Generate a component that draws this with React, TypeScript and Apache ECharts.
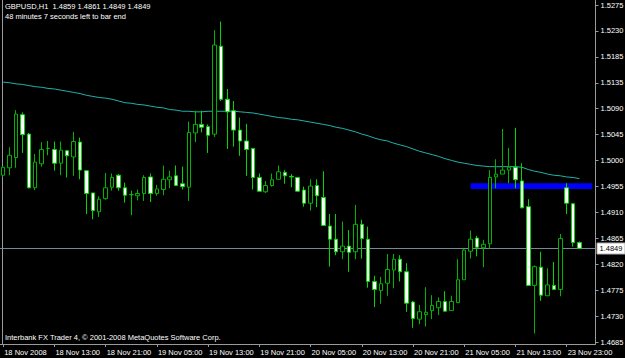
import React, { useEffect, useRef } from "react";
import * as echarts from "echarts";

const symbolName = "GBPUSD,H1";
const lastBar = ["1.4859", "1.4861", "1.4849", "1.4849"];
const timerText = "48 minutes 7 seconds left to bar end";
const copyright = "Interbank FX Trader 4, \u00a9 2001-2008 MetaQuotes Software Corp.";

const xTickLabels = [
  "18 Nov 2008", "18 Nov 13:00", "18 Nov 21:00", "19 Nov 05:00", "19 Nov 13:00", "19 Nov 21:00",
  "20 Nov 05:00", "20 Nov 13:00", "20 Nov 21:00", "21 Nov 05:00", "21 Nov 13:00", "23 Nov 23:00",
];
const yTickLabels = [
  "1.5275", "1.5230", "1.5185", "1.5135", "1.5090", "1.5045", "1.5000",
  "1.4955", "1.4910", "1.4865", "1.4820", "1.4775", "1.4730", "1.4685",
];

const opens = [
  1.4977, 1.4990, 1.5008, 1.5083, 1.5049, 1.4955, 1.4997, 1.5024, 1.5022, 1.4998,
  1.5020, 1.5009, 1.5035, 1.4985, 1.4946, 1.4913, 1.4936, 1.4956, 1.4977, 1.4955,
  1.4943, 1.4941, 1.4945, 1.4974, 1.4945, 1.4952, 1.4969, 1.4976, 1.4962, 1.4956,
  1.5051, 1.5066, 1.5062, 1.5049, 1.5203, 1.5110, 1.5090, 1.5056, 1.5037, 1.5024,
  1.4973, 1.4948, 1.4959, 1.4970, 1.4982, 1.4975, 1.4973, 1.4951, 1.4928, 1.4959,
  1.4938, 1.4888, 1.4865, 1.4843, 1.4853, 1.4843, 1.4891, 1.4865, 1.4791, 1.4775,
  1.4788, 1.4811, 1.4830, 1.4808, 1.4755, 1.4725, 1.4733, 1.4740, 1.4745, 1.4756,
  1.4740, 1.4754, 1.4794, 1.4844, 1.4867, 1.4850, 1.4857, 1.4974, 1.4979, 1.4986,
  1.4991, 1.4967, 1.4922, 1.4784, 1.4816, 1.4766, 1.4784, 1.4777, 1.4955, 1.4927,
  1.4859,
];
const closes = [
  1.4991, 1.5012, 1.5084, 1.5048, 1.4955, 1.5000, 1.5022, 1.5024, 1.4998, 1.5021,
  1.5011, 1.5036, 1.4986, 1.4945, 1.4915, 1.4935, 1.4955, 1.4973, 1.4955, 1.4942,
  1.4943, 1.4945, 1.4973, 1.4945, 1.4953, 1.4970, 1.4974, 1.4959, 1.4957, 1.5052,
  1.5066, 1.5061, 1.5047, 1.5205, 1.5110, 1.5088, 1.5056, 1.5037, 1.5022, 1.4973,
  1.4949, 1.4959, 1.4969, 1.4983, 1.4976, 1.4974, 1.4949, 1.4928, 1.4958, 1.4941,
  1.4889, 1.4865, 1.4843, 1.4853, 1.4842, 1.4891, 1.4866, 1.4791, 1.4777, 1.4787,
  1.4812, 1.4830, 1.4808, 1.4753, 1.4726, 1.4738, 1.4737, 1.4749, 1.4756, 1.4739,
  1.4756, 1.4794, 1.4846, 1.4865, 1.4851, 1.4856, 1.4973, 1.4979, 1.4986, 1.4991,
  1.4969, 1.4920, 1.4784, 1.4817, 1.4767, 1.4785, 1.4777, 1.4866, 1.4928, 1.4859,
  1.4849,
];
const lows = [
  1.4974, 1.4977, 1.4990, 1.5016, 1.4954, 1.4951, 1.4992, 1.5012, 1.4985, 1.4977,
  1.4973, 1.4976, 1.4970, 1.4909, 1.4900, 1.4904, 1.4934, 1.4950, 1.4950, 1.4929,
  1.4907, 1.4933, 1.4932, 1.4930, 1.4941, 1.4942, 1.4954, 1.4958, 1.4952, 1.4932,
  1.5035, 1.5052, 1.5016, 1.5044, 1.5107, 1.5023, 1.5027, 1.5011, 1.4976, 1.4952,
  1.4949, 1.4946, 1.4957, 1.4970, 1.4962, 1.4956, 1.4949, 1.4922, 1.4915, 1.4921,
  1.4889, 1.4817, 1.4837, 1.4830, 1.4808, 1.4830, 1.4831, 1.4780, 1.4746, 1.4752,
  1.4766, 1.4779, 1.4791, 1.4738, 1.4710, 1.4716, 1.4712, 1.4725, 1.4732, 1.4739,
  1.4740, 1.4753, 1.4794, 1.4831, 1.4835, 1.4816, 1.4848, 1.4954, 1.4979, 1.4963,
  1.4954, 1.4919, 1.4784, 1.4700, 1.4757, 1.4766, 1.4777, 1.4765, 1.4909, 1.4852,
  1.4849,
];
const highs = [
  1.4993, 1.5026, 1.5091, 1.5087, 1.5051, 1.5014, 1.5035, 1.5037, 1.5036, 1.5036,
  1.5020, 1.5053, 1.5043, 1.4986, 1.4946, 1.4940, 1.4981, 1.4980, 1.4979, 1.4964,
  1.4950, 1.4952, 1.4977, 1.4980, 1.4960, 1.4994, 1.4985, 1.4994, 1.4992, 1.5071,
  1.5090, 1.5090, 1.5066, 1.5231, 1.5246, 1.5128, 1.5107, 1.5078, 1.5067, 1.5024,
  1.4980, 1.4967, 1.4980, 1.4994, 1.4986, 1.4979, 1.4973, 1.4957, 1.4970, 1.4970,
  1.4984, 1.4909, 1.4909, 1.4896, 1.4881, 1.4925, 1.4899, 1.4887, 1.4801, 1.4799,
  1.4839, 1.4839, 1.4837, 1.4823, 1.4757, 1.4750, 1.4781, 1.4767, 1.4763, 1.4774,
  1.4766, 1.4830, 1.4849, 1.4880, 1.4871, 1.4864, 1.4986, 1.5005, 1.5058, 1.5025,
  1.5060, 1.4998, 1.4935, 1.4819, 1.4843, 1.4814, 1.4825, 1.4874, 1.4963, 1.4928,
  1.4861,
];
const movingAverage = [
  1.5140, 1.5139, 1.5137, 1.5136, 1.5134, 1.5132, 1.5131, 1.5129, 1.5128, 1.5126,
  1.5124, 1.5122, 1.5120, 1.5117, 1.5115, 1.5113, 1.5112, 1.5110, 1.5107, 1.5104,
  1.5103, 1.5101, 1.5100, 1.5098, 1.5096, 1.5095, 1.5092, 1.5091, 1.5089, 1.5089,
  1.5088, 1.5088, 1.5089, 1.5089, 1.5089, 1.5089, 1.5089, 1.5088, 1.5087, 1.5086,
  1.5084, 1.5082, 1.5080, 1.5078, 1.5077, 1.5075, 1.5074, 1.5072, 1.5070, 1.5068,
  1.5066, 1.5064, 1.5061, 1.5059, 1.5056, 1.5053, 1.5049, 1.5046, 1.5042, 1.5039,
  1.5037, 1.5033, 1.5030, 1.5027, 1.5023, 1.5019, 1.5016, 1.5013, 1.5010, 1.5006,
  1.5003, 1.5000, 1.4998, 1.4996, 1.4994, 1.4993, 1.4992, 1.4992, 1.4992, 1.4992,
  1.4992, 1.4991, 1.4987, 1.4984, 1.4982, 1.4979, 1.4977, 1.4976, 1.4974, 1.4973,
  1.4971,
];

const bidPrice = 1.4849;
const zoneTop = 1.4963;
const zoneBottom = 1.4953;
const zoneStartBar = 73;
const zoneEndBar = 92;
const slotCount = 93;
const priceMin = 1.46815;
const priceMax = 1.52838;
const tickTop = 1.5275;
const tickBottom = 1.4685;

const FONT = "'Liberation Sans', Arial, sans-serif";
const FRAME = "#9a9a9a";
const GRID_W = 595.5;
const GRID_H = 344;

export default function App() {
  const ref = useRef<HTMLDivElement>(null);

  useEffect(() => {
    document.body.style.margin = "0";
    document.body.style.background = "#000";
    if (!ref.current) return;
    const chart = echarts.init(ref.current, undefined, { renderer: "svg" });

    const step = (tickTop - tickBottom) / (yTickLabels.length - 1);
    const yTickValues = yTickLabels.map((_, i) => tickTop - i * step);
    const categories = Array.from({ length: slotCount }, (_, i) => String(i));
    const candles = opens.map((o, i) => [o, closes[i], lows[i], highs[i]]);

    chart.setOption({
      animation: false,
      backgroundColor: "#000",
      grid: { left: 0, top: 0, width: GRID_W, height: GRID_H, outerBoundsMode: "none" },
      xAxis: {
        type: "category",
        data: categories,
        boundaryGap: true,
        axisLine: { show: true, lineStyle: { color: FRAME, width: 1 } },
        axisTick: { show: true, alignWithLabel: true, interval: 7, length: 3, lineStyle: { color: FRAME } },
        axisLabel: {
          interval: 7,
          align: "left",
          color: "#fff",
          fontSize: 7.5,
          fontFamily: FONT,
          margin: 4,
          padding: [0, 0, 0, 1],
          formatter: (_v: string, idx: number) => (idx % 8 === 0 ? xTickLabels[idx / 8] ?? "" : ""),
        },
        splitLine: { show: false },
      },
      yAxis: {
        type: "value",
        position: "right",
        min: priceMin,
        max: priceMax,
        scale: true,
        splitLine: { show: false },
        axisLine: { show: true, lineStyle: { color: FRAME, width: 1 } },
        axisTick: { show: true, length: 3, customValues: yTickValues, lineStyle: { color: FRAME } },
        axisLabel: {
          customValues: yTickValues,
          color: "#fff",
          fontSize: 7.5,
          fontFamily: FONT,
          margin: 5,
          formatter: (v: number) => {
            const i = Math.round((tickTop - v) / step);
            return yTickLabels[i] ?? "";
          },
        },
      },
      series: [
        {
          type: "line",
          data: movingAverage,
          showSymbol: false,
          symbol: "none",
          lineStyle: { color: "#20b2aa", width: 1 },
          z: 2,
          markArea: {
            silent: true,
            itemStyle: { color: "#0000ff", opacity: 1 },
            data: [[{ xAxis: zoneStartBar, yAxis: zoneTop }, { xAxis: zoneEndBar, yAxis: zoneBottom }]],
          },
        },
        {
          type: "candlestick",
          data: candles,
          barWidth: 4,
          itemStyle: {
            color: "#000",
            color0: "#fff",
            borderColor: "#00b400",
            borderColor0: "#00d800",
            borderColorDoji: "#00c000",
            borderWidth: 1,
          },
          z: 3,
        },
      ],
      graphic: [
        { id: "leftFrame", type: "line", shape: { x1: 2.5, y1: 0, x2: 2.5, y2: GRID_H }, style: { stroke: FRAME, lineWidth: 1 }, silent: true },
        {
          id: "title", type: "text", x: 5, y: 6, silent: true,
          style: { text: symbolName + "  " + lastBar.join(" "), fill: "#fff", fontSize: 7.5, fontFamily: FONT, verticalAlign: "middle" },
        },
        {
          id: "timer", type: "text", x: 5, y: 16.5, silent: true,
          style: { text: timerText, fill: "#fff", fontSize: 7.5, fontFamily: FONT, verticalAlign: "middle" },
        },
        {
          id: "copy", type: "text", x: 5, y: 337.5, silent: true,
          style: { text: copyright, fill: "#fff", fontSize: 7.5, fontFamily: FONT, verticalAlign: "middle" },
        },
      ],
    });

    const py = chart.convertToPixel({ yAxisIndex: 0 }, bidPrice) as number;
    const lineY = Math.round(py) + 0.5;
    chart.setOption({
      graphic: [
        {
          id: "bidLine", type: "line", silent: true, z: 1,
          shape: { x1: 0, y1: lineY, x2: GRID_W, y2: lineY },
          style: { stroke: "#778899", lineWidth: 1 },
        },
        {
          id: "bidBox", type: "rect", silent: true, z: 10,
          shape: { x: 597, y: lineY - 5.5, width: 28, height: 11 },
          style: { fill: "#fff", stroke: "#b0b0b0", lineWidth: 1 },
        },
        {
          id: "bidText", type: "text", silent: true, z: 11,
          x: 599.5, y: lineY,
          style: { text: bidPrice.toFixed(4), fill: "#000", fontSize: 7.5, fontFamily: FONT, verticalAlign: "middle" },
        },
      ],
    });

    return () => chart.dispose();
  }, []);

  return <div ref={ref} style={{ width: 625, height: 358, background: "#000" }} />;
}
